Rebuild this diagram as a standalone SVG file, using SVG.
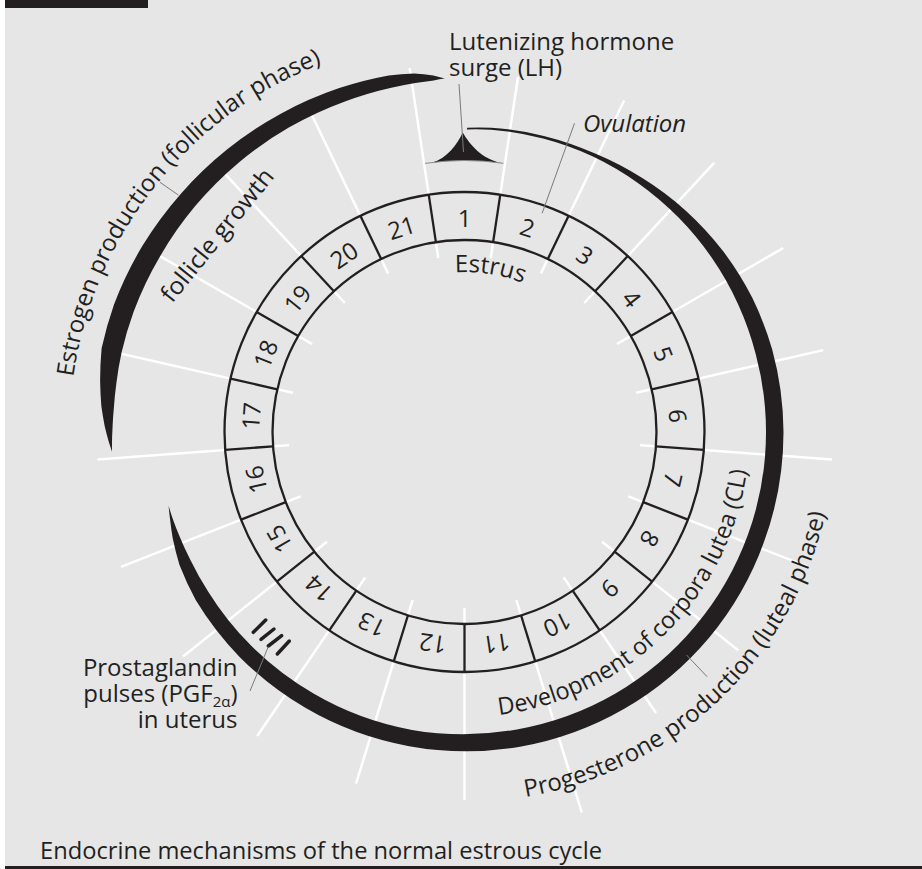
<svg xmlns="http://www.w3.org/2000/svg" width="922" height="869" viewBox="0 0 922 869">
<defs>
<style>
.t{font-family:"Open Sans","Noto Sans","DejaVu Sans",sans-serif;font-size:24px;fill:#231f20}
.it{font-style:italic}
.wl{stroke:#ffffff;stroke-width:2.5;fill:none}
.rb{stroke:#231f20;stroke-width:2.3;fill:none}
.ld{stroke:#7a7a7a;stroke-width:1;fill:none}
.blk{fill:#231f20}
.pl{stroke:#231f20;stroke-width:3.5;stroke-linecap:round}
</style>
<path id="pEstrus" d="M455.0,272.3 A160,160 0 0 1 567.35,309.4"/>
<path id="pEst" d="M73.3,377.0 A395,395 0 0 1 395.9,43.0"/>
<path id="pDev" d="M499.2,714.9 A285,285 0 0 0 748.4,407.2"/>
<path id="pProg" d="M525.6,796.9 A370,370 0 0 0 834.5,432"/>
</defs>
<rect x="0" y="0" width="922" height="869" fill="#ffffff"/>
<rect x="5" y="0" width="917" height="866" fill="#e6e6e6"/>
<rect x="5" y="0" width="143" height="8" fill="#231f20"/>
<rect x="5" y="866" width="917" height="3" fill="#231f20"/>

<g id="radial-guides" class="wl" transform="translate(464.5 432)">
<path d="M0,-176V-192M0,-240V-359" transform="rotate(8.5714)"/>
<path d="M0,-176V-192M0,-240V-368" transform="rotate(25.7143)"/>
<path d="M0,-176V-192M0,-240V-367" transform="rotate(42.8571)"/>
<path d="M0,-176V-192M0,-240V-368" transform="rotate(60)"/>
<path d="M0,-176V-192M0,-240V-368" transform="rotate(77.1429)"/>
<path d="M0,-176V-192M0,-240V-368.5" transform="rotate(94.2857)"/>
<path d="M0,-176V-192M0,-240V-368" transform="rotate(111.4286)"/>
<path d="M0,-176V-192M0,-240V-350" transform="rotate(128.5714)"/>
<path d="M0,-176V-192M0,-240V-340" transform="rotate(145.7143)"/>
<path d="M0,-176V-192M0,-240V-398" transform="rotate(162.8571)"/>
<path d="M0,-176V-192M0,-240V-368" transform="rotate(180)"/>
<path d="M0,-176V-192M0,-240V-368" transform="rotate(197.1429)"/>
<path d="M0,-176V-192M0,-240V-368" transform="rotate(214.2857)"/>
<path d="M0,-176V-192M0,-240V-360" transform="rotate(231.4286)"/>
<path d="M0,-176V-192M0,-240V-369" transform="rotate(248.5714)"/>
<path d="M0,-176V-192M0,-240V-368" transform="rotate(265.7143)"/>
<path d="M0,-176V-192M0,-240V-362" transform="rotate(282.8571)"/>
<path d="M0,-176V-192M0,-240V-362" transform="rotate(300)"/>
<path d="M0,-176V-192M0,-240V-362" transform="rotate(317.1429)"/>
<path d="M0,-176V-192M0,-240V-362" transform="rotate(334.2857)"/>
<path d="M0,-176V-192M0,-240V-368" transform="rotate(351.4286)"/>
</g>

<g id="ring" transform="translate(464.5 432)">
<circle class="rb" r="240"/>
<circle class="rb" r="192"/>
<g class="rb">
<line x1="0" y1="-192" x2="0" y2="-240" transform="rotate(8.5714)"/>
<line x1="0" y1="-192" x2="0" y2="-240" transform="rotate(25.7143)"/>
<line x1="0" y1="-192" x2="0" y2="-240" transform="rotate(42.8571)"/>
<line x1="0" y1="-192" x2="0" y2="-240" transform="rotate(60)"/>
<line x1="0" y1="-192" x2="0" y2="-240" transform="rotate(77.1429)"/>
<line x1="0" y1="-192" x2="0" y2="-240" transform="rotate(94.2857)"/>
<line x1="0" y1="-192" x2="0" y2="-240" transform="rotate(111.4286)"/>
<line x1="0" y1="-192" x2="0" y2="-240" transform="rotate(128.5714)"/>
<line x1="0" y1="-192" x2="0" y2="-240" transform="rotate(145.7143)"/>
<line x1="0" y1="-192" x2="0" y2="-240" transform="rotate(162.8571)"/>
<line x1="0" y1="-192" x2="0" y2="-240" transform="rotate(180)"/>
<line x1="0" y1="-192" x2="0" y2="-240" transform="rotate(197.1429)"/>
<line x1="0" y1="-192" x2="0" y2="-240" transform="rotate(214.2857)"/>
<line x1="0" y1="-192" x2="0" y2="-240" transform="rotate(231.4286)"/>
<line x1="0" y1="-192" x2="0" y2="-240" transform="rotate(248.5714)"/>
<line x1="0" y1="-192" x2="0" y2="-240" transform="rotate(265.7143)"/>
<line x1="0" y1="-192" x2="0" y2="-240" transform="rotate(282.8571)"/>
<line x1="0" y1="-192" x2="0" y2="-240" transform="rotate(300)"/>
<line x1="0" y1="-192" x2="0" y2="-240" transform="rotate(317.1429)"/>
<line x1="0" y1="-192" x2="0" y2="-240" transform="rotate(334.2857)"/>
<line x1="0" y1="-192" x2="0" y2="-240" transform="rotate(351.4286)"/>
</g>
<g class="t" text-anchor="middle">
<g id="day1"><text y="-205" transform="rotate(0)">1</text></g>
<g id="day2"><text y="-205" transform="rotate(17.1429)">2</text></g>
<g id="day3"><text y="-205" transform="rotate(34.2857)">3</text></g>
<g id="day4"><text y="-205" transform="rotate(51.4286)">4</text></g>
<g id="day5"><text y="-205" transform="rotate(68.5714)">5</text></g>
<g id="day6"><text y="-205" transform="rotate(85.7143)">6</text></g>
<g id="day7"><text y="-205" transform="rotate(102.8571)">7</text></g>
<g id="day8"><text y="-205" transform="rotate(120)">8</text></g>
<g id="day9"><text y="-205" transform="rotate(137.1429)">9</text></g>
<g id="day10"><text y="-205" transform="rotate(154.2857)">10</text></g>
<g id="day11"><text y="-205" transform="rotate(171.4286)">11</text></g>
<g id="day12"><text y="-205" transform="rotate(188.5714)">12</text></g>
<g id="day13"><text y="-205" transform="rotate(205.7143)">13</text></g>
<g id="day14"><text y="-205" transform="rotate(222.8571)">14</text></g>
<g id="day15"><text y="-205" transform="rotate(240)">15</text></g>
<g id="day16"><text y="-205" transform="rotate(257.1429)">16</text></g>
<g id="day17"><text y="-205" transform="rotate(274.2857)">17</text></g>
<g id="day18"><text y="-205" transform="rotate(291.4286)">18</text></g>
<g id="day19"><text y="-205" transform="rotate(308.5714)">19</text></g>
<g id="day20"><text y="-205" transform="rotate(325.7143)">20</text></g>
<g id="day21"><text y="-205" transform="rotate(342.8571)">21</text></g>
</g>
</g>

<g id="estrogen-arc">
<path class="blk" d="M444.8,78.6 A358,358 0 0 0 433.3,75.4 A362,362 0 0 0 414.1,73.5 A364,364 0 0 0 388.7,75.5 A366,366 0 0 0 339.3,88.1 A367,367 0 0 0 280.8,113.7 A368,368 0 0 0 227.3,149.3 A370,370 0 0 0 180.7,193.9 A371,371 0 0 0 142.3,246 A372,372 0 0 0 114.0,304.4 A373,373 0 0 0 101.6,348.2 A370,370 0 0 0 100.1,380.8 A366,366 0 0 0 101.4,406.6 A362,362 0 0 0 104.6,425.7 A358,358 0 0 0 108.6,441.3 A355,355 0 0 0 112.0,451.7 A352,352 0 0 1 112.6,425.9 A352,352 0 0 1 113.9,407.5 A351.5,351.5 0 0 1 116.4,383.1 A352,352 0 0 1 121.5,352.8 A352,352 0 0 1 133.7,311.6 A351.5,351.5 0 0 1 160.1,256.3 A351.5,351.5 0 0 1 195.2,206.1 A351.5,351.5 0 0 1 238.6,162.7 A351.5,351.5 0 0 1 288.8,127.6 A351.5,351.5 0 0 1 344.3,101.7 A352,352 0 0 1 391.3,87.7 A352.5,352.5 0 0 1 415.4,82.9 A353,353 0 0 1 433.7,80.4 A354,354 0 0 1 444.8,78.6 Z"/>
</g>

<g id="progesterone-arc">
<path class="blk" d="M467.2,127.7 A305,305 0 0 1 491.1,127.7 A306,306 0 0 1 543.8,135.9 A307,307 0 0 1 594.5,153.3 A309,309 0 0 1 642.3,178.1 A311,311 0 0 1 685.8,210.7 A314,314 0 0 1 723.0,251.0 A316,316 0 0 1 752.3,297.8 A318,318 0 0 1 772.2,349.6 A319,319 0 0 1 783.5,432 A319,319 0 0 1 764.3,541.1 A319,319 0 0 1 709.3,637.4 A319.5,319.5 0 0 1 624.3,708.7 A319.5,319.5 0 0 1 520.0,746.7 A319,319 0 0 1 409.1,746.2 A319,319 0 0 1 305.3,707.8 A318,318 0 0 1 239.6,656.9 A317,317 0 0 1 195.7,600.0 A315,315 0 0 1 179.5,564.9 A312,312 0 0 1 172.7,538.2 A309,309 0 0 1 170.4,521.9 A306,306 0 0 1 168.6,505.8 A304,304 0 0 0 173.5,521.0 A304,304 0 0 0 179.3,535.8 A303,303 0 0 0 190.3,559.8 A302,302 0 0 0 208.4,592.0 A302,302 0 0 0 251.0,645.6 A302,302 0 0 0 313.5,693.5 A302,302 0 0 0 412.0,729.9 A302,302 0 0 0 516.9,729.4 A302,302 0 0 0 615.5,693.5 A302,302 0 0 0 695.5,625.8 A301.5,301.5 0 0 0 747.8,535.1 A301.5,301.5 0 0 0 766.0,432 A301.5,301.5 0 0 0 755.7,354.0 A302,302 0 0 0 738.2,304.4 A302.5,302.5 0 0 0 712.3,258.5 A303,303 0 0 0 678.8,217.8 A303.5,303.5 0 0 0 638.6,183.4 A304,304 0 0 0 593.0,156.5 A304,304 0 0 0 543.1,138.55 A303.5,303.5 0 0 0 491.0,129.65 A304,304 0 0 0 466.9,129.4 Z"/>
</g>

<g id="lh-surge">
<path class="blk" d="M432.5,162.5 C447,158 457,145 462.7,132.5 C470,145 482,159 501.5,163 A271.5,271.5 0 0 0 432.5,162.5 Z"/>
<path d="M425,163.4 A271.5,271.5 0 0 1 503.3,163.3" stroke="#8a8a8a" stroke-width="1" fill="none"/>
</g>

<g id="pgf-pulses">
<line class="pl" x1="253.3" y1="632.3" x2="265.7" y2="620"/>
<line class="pl" x1="261" y1="639.3" x2="274" y2="629"/>
<line class="pl" x1="268.3" y1="646" x2="281.7" y2="635.7"/>
<line class="pl" x1="277.3" y1="654" x2="289.3" y2="641"/>
</g>

<g id="connectors" class="ld">
<line x1="459" y1="84" x2="463.5" y2="152"/>
<line x1="574.5" y1="123.3" x2="542.1" y2="213.3"/>
<line x1="160" y1="182.3" x2="178.3" y2="195"/>
<line x1="686.5" y1="655" x2="707.1" y2="676.7"/>
<line x1="268.3" y1="646.7" x2="250" y2="691"/>
</g>

<g id="labels" class="t">
<g id="lh-label"><text x="449" y="49.5">Lutenizing hormone</text><text x="449" y="75.5">surge (LH)</text></g>
<g id="ovulation-label"><text class="it" x="583" y="132">Ovulation</text></g>
<g id="estrus-label"><text><textPath href="#pEstrus">Estrus</textPath></text></g>
<g id="estrogen-label"><text><textPath href="#pEst">Estrogen production (follicular phase)</textPath></text></g>
<g id="follicle-label"><text transform="translate(172 304) rotate(-51)" textLength="164" lengthAdjust="spacingAndGlyphs">follicle growth</text></g>
<g id="cl-label"><text><textPath href="#pDev" textLength="374" lengthAdjust="spacingAndGlyphs">Development of corpora lutea (CL)</textPath></text></g>
<g id="progesterone-label"><text><textPath href="#pProg">Progesterone production (luteal phase)</textPath></text></g>
<g id="pgf-label" text-anchor="end">
<text x="237.5" y="675.5">Prostaglandin</text>
<text x="237.5" y="701.5">pulses (PGF<tspan font-size="15" dy="5">2α</tspan><tspan dy="-5">)</tspan></text>
<text x="237.5" y="727.5">in uterus</text>
</g>
<g id="caption"><text x="40" y="859" textLength="562" lengthAdjust="spacingAndGlyphs">Endocrine mechanisms of the normal estrous cycle</text></g>
</g>
</svg>
